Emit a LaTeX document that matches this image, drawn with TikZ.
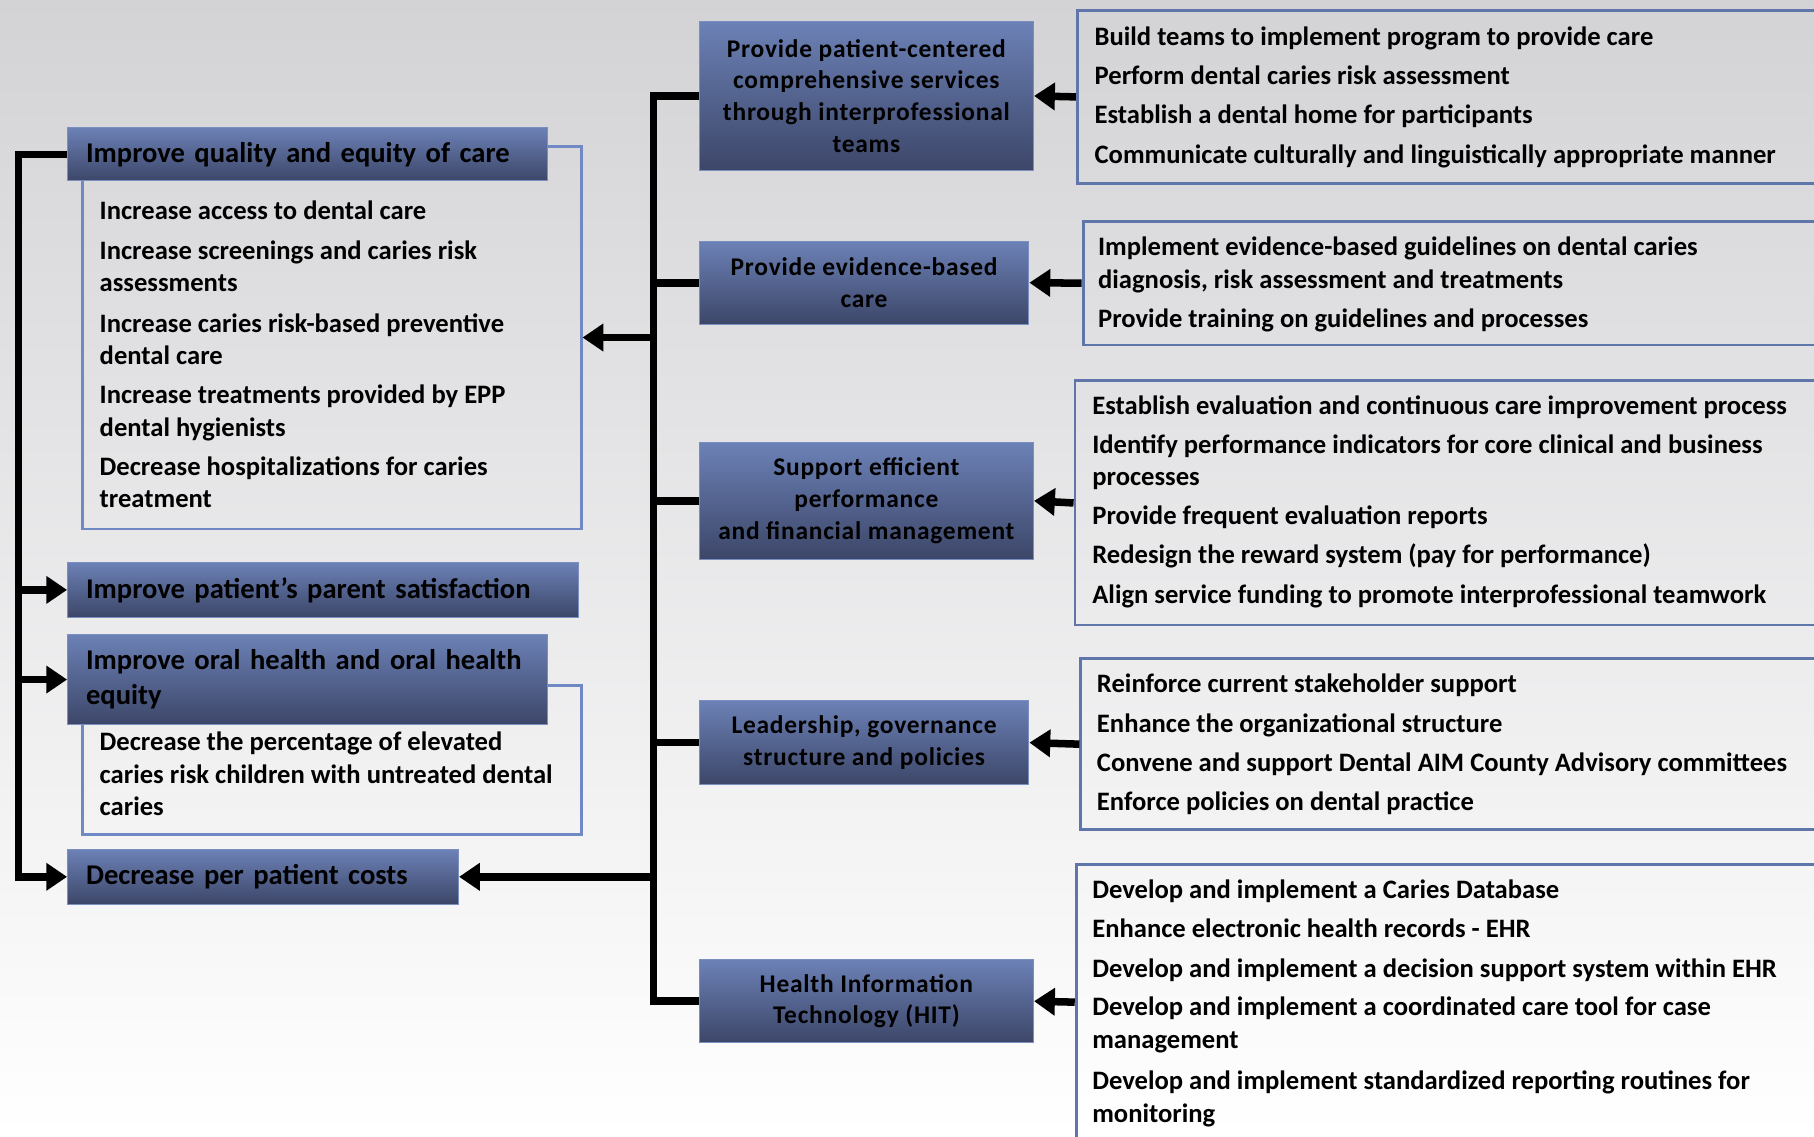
\documentclass[tikz,border=0pt]{standalone}
\usepackage{fontspec}
\setmainfont{Carlito}
\usepackage{tikz}
\usetikzlibrary{arrows.meta,positioning}

\definecolor{bgtop}{RGB}{211,211,214}
\definecolor{boxtop}{RGB}{108,129,182}
\definecolor{boxbot}{RGB}{60,70,104}
\definecolor{boxedge}{RGB}{122,142,192}
\definecolor{listedge}{RGB}{112,136,196}
\definecolor{actedge}{RGB}{96,118,170}
\newcommand\headfont{\fontsize{24.7}{30}\selectfont\bfseries}
\newcommand\midfont{\fontsize{22}{27.5}\selectfont\bfseries\addfontfeature{LetterSpace=3}}
\newcommand\itemfont{\fontsize{23}{28}\selectfont\bfseries}

\begin{document}
\begin{tikzpicture}[x=1pt,y=-1pt,>={Triangle[length=18pt,width=23pt]},
    conn/.style={line width=6.5pt},
    box/.style={draw=boxedge,line width=0.8pt,top color=boxtop,bottom color=boxbot,
                inner sep=0pt,anchor=north west},
    head box/.style={box,inner xsep=16pt,align=left,font=\headfont},
    mid box/.style={box,align=center,font=\midfont},
    list box/.style={draw=listedge,line width=2.5pt,inner sep=0pt,anchor=north west},
    act box/.style={list box,draw=actedge},
    item/.style={anchor=base west,align=left,inner sep=0pt,font=\itemfont}]

  \useasboundingbox (0,0) rectangle (1568,982);
  \shade[top color=bgtop,bottom color=white] (0,0) rectangle (1568,982);

  % outcomes (left)
  \node[list box,minimum width=431pt,minimum height=331pt] (qualitylist) at (70,125) {};
  \node[list box,minimum width=431pt,minimum height=129pt] (orallist) at (70,591) {};
  \node[head box,text width=383pt,minimum height=46pt] (quality) at (58,110) {Improve quality and equity of care};
  \node[head box,text width=410pt,minimum height=47pt] (satis) at (58,486) {Improve patient’s parent satisfaction};
  \node[head box,text width=383pt,minimum height=78pt] (oral) at (58,548) {Improve oral health and oral health\\equity};
  \node[head box,text width=306pt,minimum height=47pt] (cost) at (58,734) {Decrease per patient costs};

  % y = baseline of the last line
  \foreach \y/\t [count=\i] in {190/{Increase access to dental care},
      252/{Increase screenings and caries risk\\assessments},
      315/{Increase caries risk-based preventive\\dental care},
      377/{Increase treatments provided by EPP\\dental hygienists},
      439/{Decrease hospitalizations for caries\\treatment}}
    \node[item] (q\i) at (86,\y) {\t};
  \node[item] (o1) at (86,705) {Decrease the percentage of elevated\\caries risk children with untreated dental\\caries};

  % strategies (middle)
  \node[mid box,minimum width=289pt,minimum height=129pt] (teams) at (604,18) {Provide patient-centered\\comprehensive services\\through interprofessional\\teams};
  \node[mid box,minimum width=285pt,minimum height=72pt] (evid) at (604,208) {Provide evidence-based\\care};
  \node[mid box,minimum width=289pt,minimum height=101pt] (perf) at (604,382) {Support efficient\\performance\\and financial management};
  \node[mid box,minimum width=285pt,minimum height=73pt] (lead) at (604,605) {Leadership, governance\\structure and policies};
  \node[mid box,minimum width=289pt,minimum height=72pt] (hit) at (604,829) {Health Information\\Technology (HIT)};

  % activities (right)
  \node[act box,minimum width=660pt,minimum height=149pt] (teamsacts) at (930,8) {};
  \node[act box,minimum width=655pt,minimum height=107pt] (evidacts) at (935,190) {};
  \node[act box,minimum width=662pt,minimum height=211pt] (perfacts) at (928,328) {};
  \node[act box,minimum width=657pt,minimum height=148pt] (leadacts) at (933,568) {};
  \node[act box,minimum width=661pt,minimum height=238pt] (hitacts) at (929,746) {};

  \foreach \y/\t [count=\i] in {39/{Build teams to implement program to provide care},
      73/{Perform dental caries risk assessment},
      107/{Establish a dental home for participants},
      141/{Communicate culturally and linguistically appropriate manner}}
    \node[item] (a\i) at (946,\y) {\t};
  \foreach \y/\t [count=\i] in {249/{Implement evidence-based guidelines on dental caries\\diagnosis, risk assessment and treatments},
      283/{Provide training on guidelines and processes}}
    \node[item] (b\i) at (949,\y) {\t};
  \foreach \y/\t [count=\i] in {358/{Establish evaluation and continuous care improvement process},
      420/{Identify performance indicators for core clinical and business\\processes},
      453/{Provide frequent evaluation reports},
      487/{Redesign the reward system (pay for performance)},
      522/{Align service funding to promote interprofessional teamwork}}
    \node[item] (c\i) at (944,\y) {\t};
  \foreach \y/\t [count=\i] in {599/{Reinforce current stakeholder support},
      633/{Enhance the organizational structure},
      667/{Convene and support Dental AIM County Advisory committees},
      701/{Enforce policies on dental practice}}
    \node[item] (d\i) at (948,\y) {\t};
  \foreach \y/\t [count=\i] in {777/{Develop and implement a Caries Database},
      810/{Enhance electronic health records - EHR},
      845/{Develop and implement a decision support system within EHR},
      906/{Develop and implement a coordinated care tool for case\\management},
      970/{Develop and implement standardized reporting routines for\\monitoring}}
    \node[item] (e\i) at (944,\y) {\t};

  % connectors
  \coordinate (ltrunk) at (16,0);
  \coordinate (mtrunk) at (565,0);
  \draw[conn,->] (quality.west) -- (quality.west -| ltrunk) |- (cost.west);
  \draw[conn,->] (satis.west -| ltrunk) -- (satis.west);
  \draw[conn,->] (oral.west -| ltrunk) -- (oral.west);

  \draw[conn] (teams.west) -- (teams.west -| mtrunk) |- (hit.west);
  \draw[conn] (evid.west -| mtrunk) -- (evid.west);
  \draw[conn] (perf.west -| mtrunk) -- (perf.west);
  \draw[conn] (lead.west -| mtrunk) -- (lead.west);
  \draw[conn,->] (qualitylist.east -| mtrunk) -- (qualitylist.east);
  \draw[conn,->] (cost.east -| mtrunk) -- (cost.east);

  \draw[conn,->] (teamsacts.west) -- (teams.east);
  \draw[conn,->] (evidacts.west) -- (evid.east);
  \draw[conn,->] (perfacts.west) -- (perf.east);
  \draw[conn,->] (leadacts.west) -- (lead.east);
  \draw[conn,->] (hitacts.west) -- (hit.east);
\end{tikzpicture}
\end{document}
